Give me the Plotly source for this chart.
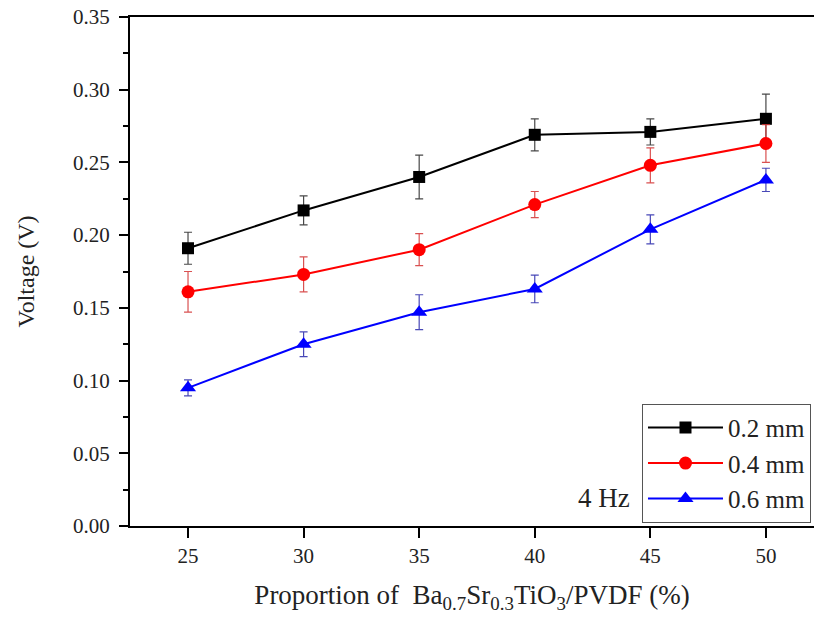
import plotly.graph_objects as go

proportion = [25, 30, 35, 40, 45, 50]

v_02 = [0.191, 0.217, 0.240, 0.269, 0.271, 0.280]
e_02 = [0.011, 0.010, 0.015, 0.011, 0.009, 0.017]

v_04 = [0.161, 0.173, 0.190, 0.221, 0.248, 0.263]
e_04 = [0.014, 0.012, 0.011, 0.009, 0.012, 0.013]

v_06 = [0.095, 0.125, 0.147, 0.163, 0.204, 0.238]
e_06 = [0.0055, 0.0085, 0.012, 0.0095, 0.010, 0.008]

series_names = ["0.2 mm", "0.4 mm", "0.6 mm"]
y_ticks = [0.00, 0.05, 0.10, 0.15, 0.20, 0.25, 0.30, 0.35]

FONT = "Liberation Serif, Times New Roman, serif"

fig = go.Figure()

specs = [
    (v_02, e_02, series_names[0], "black", "rgba(40,40,40,0.85)", "square", 12),
    (v_04, e_04, series_names[1], "#ff0000", "rgba(210,50,50,0.85)", "circle", 13),
    (v_06, e_06, series_names[2], "#0000ff", "rgba(40,40,170,0.85)", "triangle-up", 14),
]

for vals, errs, name, col, ecol, sym, size in specs:
    fig.add_trace(go.Scatter(
        x=proportion, y=vals, name=name,
        mode="lines+markers",
        line=dict(color=col, width=2),
        marker=dict(symbol=sym, size=size, color=col),
        error_y=dict(type="data", array=errs, visible=True,
                     color=ecol, thickness=1.2, width=4),
    ))

fig.add_annotation(
    x=0.734, y=0.055, xref="paper", yref="paper",
    text="4 Hz", showarrow=False, xanchor="right", yanchor="middle",
    font=dict(family=FONT, size=27, color="#222"),
)

fig.update_layout(
    width=814, height=625,
    margin=dict(l=130, r=0, t=17, b=99),
    paper_bgcolor="white", plot_bgcolor="white",
    font=dict(family=FONT, color="#222"),
    showlegend=True,
    legend=dict(
        x=0.9956, y=0.24, xanchor="right", yanchor="top",
        bgcolor="white", bordercolor="#555", borderwidth=1,
        font=dict(family=FONT, size=25, color="#222"),
        tracegroupgap=0, itemwidth=75,
    ),
    xaxis=dict(
        range=[22.49, 52.08],
        tickvals=proportion,
        ticks="outside", ticklen=10, tickwidth=2, tickcolor="black",
        showline=True, linecolor="black", linewidth=2, mirror=True,
        showgrid=False, zeroline=False,
        tickfont=dict(family=FONT, size=21, color="#222"),
        title=dict(
            text="Proportion of  Ba<sub>0.7</sub>Sr<sub>0.3</sub>TiO<sub>3</sub>/PVDF (%)",
            font=dict(family=FONT, size=27, color="#222"),
            standoff=18,
        ),
    ),
    yaxis=dict(
        range=[0, 0.35],
        tickvals=y_ticks, tickformat=".2f",
        ticks="outside", ticklen=9, tickwidth=2, tickcolor="black",
        minor=dict(ticks="outside", ticklen=5, tickwidth=2, tickcolor="black", dtick=0.025),
        showline=True, linecolor="black", linewidth=2, mirror=False,
        showgrid=False, zeroline=False,
        tickfont=dict(family=FONT, size=21, color="#222"),
        ticklabelstandoff=5,
        title=dict(text="Voltage (V)", font=dict(family=FONT, size=24, color="#222"), standoff=32),
    ),
)

fig.write_html("out.html")
